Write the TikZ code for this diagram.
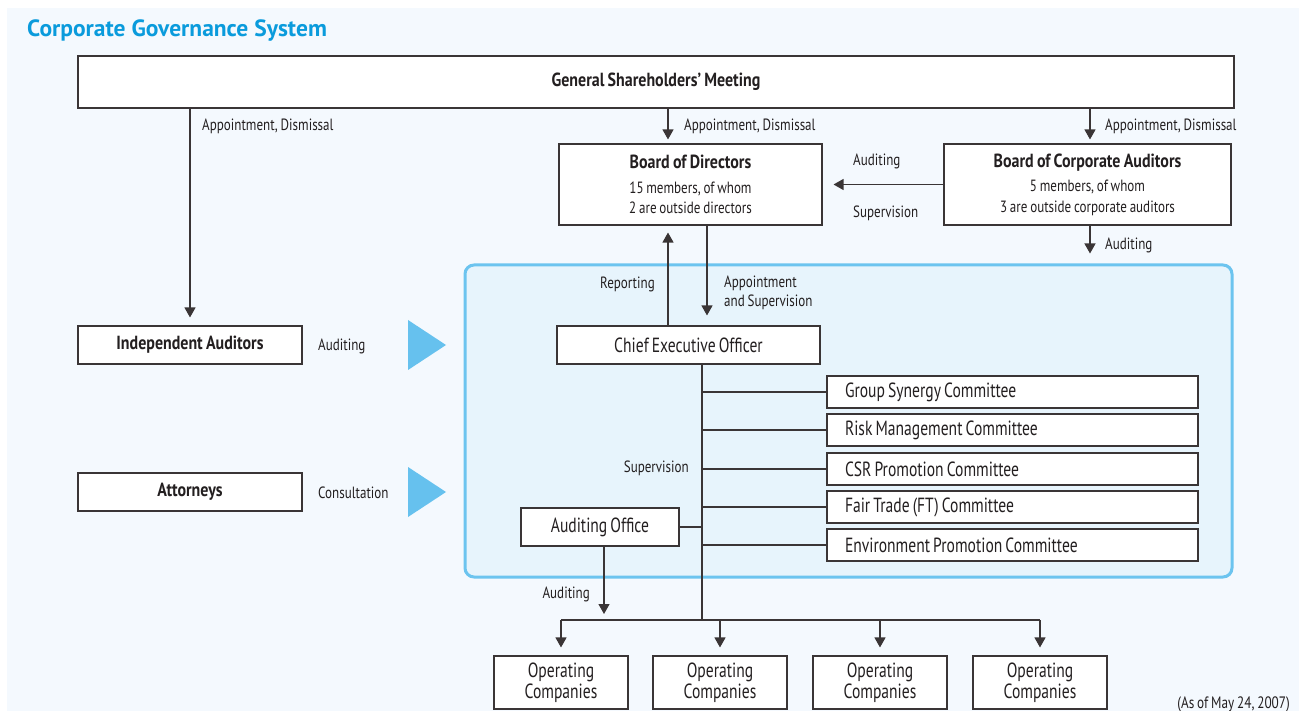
\documentclass[tikz,border=0pt]{standalone}
\usepackage{fontspec}
\setmainfont{PT Sans}[FakeStretch=0.76, WordSpace=0.75, BoldFeatures={FakeStretch=0.84, WordSpace=0.8}]
\newfontfamily\lblfont{PT Sans}[FakeStretch=0.8, WordSpace=0.8]
\newfontfamily\titlefont{PT Sans}
\usetikzlibrary{arrows.meta}
\definecolor{bg}{HTML}{F4F9FE}
\definecolor{panelfill}{HTML}{E7F4FC}
\definecolor{panelline}{HTML}{6CC4EF}
\definecolor{tri}{HTML}{66C1EE}
\definecolor{titlec}{HTML}{0A9BDC}
\definecolor{linec}{HTML}{3A3536}
\definecolor{txt}{HTML}{231F20}
\newcommand\subfs{\lblfont\fontsize{16.3}{19.5}\selectfont}
\newcommand\bigbf{\bfseries\fontsize{19}{22}\selectfont}
\newcommand\cmtext[1]{\hbox to 335pt{#1\hfil}}
\tikzset{
  box/.style={draw=linec, fill=white, line width=1.1pt, inner sep=0pt, text=txt,
    font=\fontsize{20.5}{20.5}\selectfont},
  boldbox/.style={box, font=\bigbf},
  combox/.style={box, minimum height=32pt, minimum width=371pt},
  opbox/.style={box, minimum width=134pt, minimum height=53pt, align=center},
  lbl/.style={inner sep=0pt, anchor=west, text=txt, font=\lblfont\fontsize{16.3}{18.5}\selectfont},
  conn/.style={draw=linec, line width=1.2pt},
  arr/.style={conn, -{Triangle[length=10pt,width=11pt]}}
}
\begin{document}
\begin{tikzpicture}[x=1pt,y=-1pt]
\useasboundingbox (0,0) rectangle (1299,711);
\fill[bg] (7,8) rectangle (1299,711);
% title
\node[inner sep=0pt, anchor=west, text=titlec, font=\titlefont\bfseries\fontsize{23.5}{27}\selectfont] (title) at (27,31) {Corporate Governance System};
% panel
\node[draw=panelline, fill=panelfill, line width=3pt, rounded corners=9pt,
  minimum width=767pt, minimum height=312pt, inner sep=0pt] (panel) at (848.5,421) {};
% triangles
\fill[tri] (408,320) -- (446,345) -- (408,370) -- cycle;
\fill[tri] (408,467) -- (446,492) -- (408,517) -- cycle;
% boxes
\node[boldbox, minimum width=1156pt, minimum height=52pt] (gsm) at (656,82) {General Shareholders’ Meeting};
\node[box, minimum width=263pt, minimum height=81pt, align=center] (bod) at (690.5,184.5)
  {\bigbf Board of Directors\\[4pt]\subfs 15 members, of whom\\\subfs 2 are outside directors};
\node[box, minimum width=287pt, minimum height=81pt, align=center] (bca) at (1087.5,184.5)
  {\bigbf Board of Corporate Auditors\\[4pt]\subfs 5 members, of whom\\\subfs 3 are outside corporate auditors};
\node[box, minimum width=263pt, minimum height=38pt] (ceo) at (688.5,345) {Chief Executive Officer};
\node[boldbox, minimum width=224pt, minimum height=38pt] (ia) at (190,345) {Independent Auditors};
\node[boldbox, minimum width=224pt, minimum height=38pt] (att) at (190,492) {Attorneys};
\node[combox] (c1) at (1012.5,392) {\cmtext{Group Synergy Committee}};
\node[combox] (c2) at (1012.5,430) {\cmtext{Risk Management Committee}};
\node[combox] (c3) at (1012.5,469) {\cmtext{CSR Promotion Committee}};
\node[combox] (c4) at (1012.5,507) {\cmtext{Fair Trade (FT) Committee}};
\node[combox] (c5) at (1012.5,545) {\cmtext{Environment Promotion Committee}};
\node[box, minimum width=158pt, minimum height=38pt] (ao) at (600,527) {Auditing Office};
\node[opbox] (o1) at (561,682.5) {Operating\\Companies};
\node[opbox] (o2) at (720,682.5) {Operating\\Companies};
\node[opbox] (o3) at (880,682.5) {Operating\\Companies};
\node[opbox] (o4) at (1040,682.5) {Operating\\Companies};
% coordinates
\coordinate (xg) at (668,0);
\coordinate (xb) at (1090,0);
\coordinate (xr) at (668,0);
\coordinate (xa) at (707,0);
\coordinate (xs) at (702,0);
\coordinate (bus) at (702,620);
\coordinate (aoend) at (604,614);
% connectors
\draw[arr, shorten >=8pt] (gsm.south -| ia.north) -- (ia.north);
\draw[arr, shorten >=4pt] (gsm.south -| xg) -- (bod.north -| xg);
\draw[arr, shorten >=4pt] (gsm.south -| xb) -- (bca.north -| xb);
\draw[arr, shorten >=11pt] (bca.west) -- (bod.east);
\draw[arr, shorten >=10pt] (bca.south -| xb) -- (panel.north -| xb);
\draw[arr, shorten >=7pt] (ceo.north -| xr) -- (bod.south -| xr);
\draw[arr, shorten >=10pt] (bod.south -| xa) -- (ceo.north -| xa);
\draw[conn] (ceo.south -| xs) -- (bus);
\foreach \c in {c1,c2,c3,c4,c5} \draw[conn] (\c.west -| xs) -- (\c.west);
\draw[conn] (ao.east) -- (ao.east -| xs);
\draw[arr] (ao.south -| aoend) -- (aoend);
\draw[conn] (o1.north |- bus) -- (o4.north |- bus);
\foreach \o in {o1,o2,o3,o4} \draw[arr, shorten >=8pt] (\o.north |- bus) -- (\o.north);
% labels
\node[lbl] (l1) at (202,126) {Appointment, Dismissal};
\node[lbl] (l2) at (684,126) {Appointment, Dismissal};
\node[lbl] (l3) at (1105,126) {Appointment, Dismissal};
\node[lbl] (l4) at (853,161) {Auditing};
\node[lbl] (l5) at (853,213) {Supervision};
\node[lbl] (l6) at (1105,245) {Auditing};
\node[lbl, anchor=east] (l7) at (655,284) {Reporting};
\node[lbl, align=left, anchor=north west] (l8) at (724,276) {Appointment\\and Supervision};
\node[lbl] (l9) at (318,346) {Auditing};
\node[lbl] (l10) at (318,493) {Consultation};
\node[lbl, anchor=east] (l11) at (689,468) {Supervision};
\node[lbl, anchor=east] (l12) at (590,594) {Auditing};
\node[lbl, anchor=east, font=\lblfont\fontsize{16.5}{18}\selectfont] (l13) at (1290,704) {(As of May 24, 2007)};
\end{tikzpicture}
\end{document}
